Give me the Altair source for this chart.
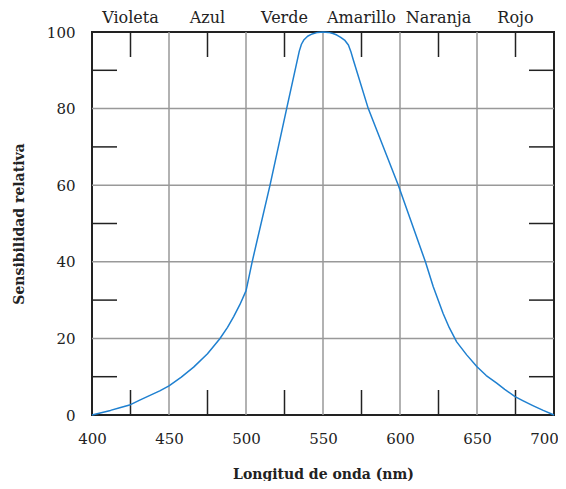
import altair as alt
import pandas as pd

# Curve
wavelength = [400, 406, 412, 418, 425, 431, 438, 444, 450, 458, 466, 475, 483, 488, 492,
              496, 500, 500.6, 504, 515.6, 526.4, 534.6, 536, 537.5, 540, 543, 546.5,
              550, 553.5, 556.5, 559, 561.5, 564, 566.5, 568, 569.7, 579.4, 598.9,
              616.5, 621.6, 628, 632, 636.8, 643.3, 650, 656, 662.8, 668, 674.7, 680,
              686.6, 693, 700]
sensitivity = [0, 0.6, 1.2, 1.9, 2.7, 3.9, 5.2, 6.3, 7.6, 9.9, 12.5, 16.0, 19.9, 22.9, 25.7,
               28.8, 32.4, 33.5, 40, 60, 80, 95, 96.8, 97.9, 98.9, 99.5, 99.9,
               100, 99.9, 99.6, 99.2, 98.6, 97.9, 96.6, 95, 92.7, 80, 60,
               40, 33.5, 26.5, 22.8, 19.1, 15.7, 12.6, 10.3, 8.3, 6.7, 4.8, 3.7,
               2.4, 1.2, 0]

band_names = ["Violeta", "Azul", "Verde", "Amarillo", "Naranja", "Rojo"]
band_centers = [425, 475, 525, 575, 625, 675]

x_ticks = [400, 450, 500, 550, 600, 650, 700]
y_ticks = [0, 20, 40, 60, 80, 100]
x_grid = [450, 500, 550, 600, 650]
y_grid = [20, 40, 60, 80]
x_minor = [425, 475, 525, 575, 625, 675]
y_minor = [10, 30, 50, 70, 90]

W, H = 462, 383
FONT = "DejaVu Serif"
TXT = "#222222"
GRID = "#999999"
TICK = "#222222"
TL = 25

xs = alt.Scale(domain=[400, 700], nice=False, zero=False)
ys = alt.Scale(domain=[0, 100], nice=False, zero=True)

x_axis = alt.Axis(
    values=x_ticks, grid=False, ticks=False, domain=False, format="d",
    labelFlush=False, labelOverlap=False,
    labelOffset={"condition": {"test": "datum.value >= 700", "value": -10}, "value": 0},
    title="Longitud de onda (nm)", labelFont=FONT, labelFontSize=15,
    labelColor=TXT, labelPadding=16, titleFont=FONT, titleFontSize=14,
    titleFontWeight="bold", titleColor=TXT, titlePadding=21)
y_axis = alt.Axis(
    values=y_ticks, grid=False, ticks=False, domain=False, format="d",
    labelFlush=False, labelOverlap=False,
    title="Sensibilidad relativa", labelFont=FONT, labelFontSize=15,
    labelColor=TXT, labelPadding=17, titleFont=FONT, titleFontSize=14,
    titleFontWeight="bold", titleColor=TXT, titlePadding=20)

curve_df = pd.DataFrame({"wl": wavelength, "s": sensitivity})
band_df = pd.DataFrame({"wl": band_centers, "name": band_names})
xg_df = pd.DataFrame({"wl": x_grid})
yg_df = pd.DataFrame({"s": y_grid})
xm_df = pd.DataFrame({"wl": x_minor})
ym_df = pd.DataFrame({"s": y_minor})

X = alt.X("wl:Q", scale=xs, axis=x_axis)
Y = alt.Y("s:Q", scale=ys, axis=y_axis)

grid_v = alt.Chart(xg_df).mark_rule(color=GRID, strokeWidth=1.5).encode(
    x=X, y=alt.value(0), y2=alt.value(H))
grid_h = alt.Chart(yg_df).mark_rule(color=GRID, strokeWidth=1.5).encode(
    y=Y, x=alt.value(0), x2=alt.value(W))

tick_b = alt.Chart(xm_df).mark_rule(color=TICK, strokeWidth=1.5).encode(
    x=X, y=alt.value(H), y2=alt.value(H - TL))
tick_t = alt.Chart(xm_df).mark_rule(color=TICK, strokeWidth=1.5).encode(
    x=X, y=alt.value(0), y2=alt.value(TL))
tick_l = alt.Chart(ym_df).mark_rule(color=TICK, strokeWidth=1.5).encode(
    y=Y, x=alt.value(0), x2=alt.value(TL))
tick_r = alt.Chart(ym_df).mark_rule(color=TICK, strokeWidth=1.5).encode(
    y=Y, x=alt.value(W), x2=alt.value(W - TL))

curve = alt.Chart(curve_df).mark_line(
    color="#1f80d0", strokeWidth=1.5, strokeJoin="round").encode(
    x=X, y=Y, order=alt.Order("wl:Q"))

bands = alt.Chart(band_df).mark_text(
    font=FONT, fontSize=16, color=TXT, baseline="alphabetic", align="center").encode(
    x=X, y=alt.value(-9), text="name:N")

chart = alt.layer(grid_v, grid_h, tick_b, tick_t, tick_l, tick_r, curve, bands).properties(
    width=W, height=H,
    autosize=alt.AutoSizeParams(type="none"),
    padding={"left": 84, "top": 24, "right": 4, "bottom": 66},
    background="white",
).configure_view(stroke="#222222", strokeWidth=2)

chart.save("out.html", embed_options={"renderer": "svg", "actions": False})
